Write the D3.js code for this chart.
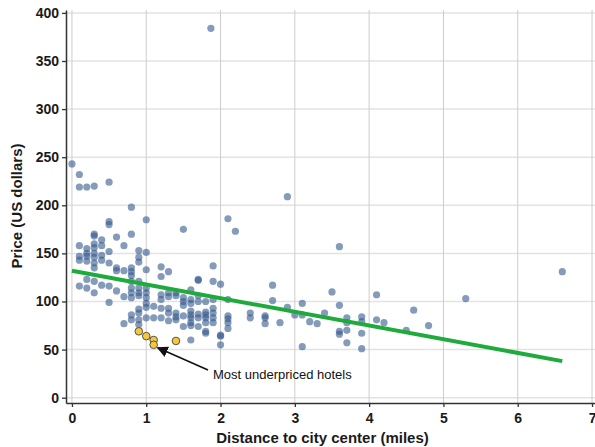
<!DOCTYPE html>
<html>
<head>
<meta charset="utf-8">
<style>
  body { margin: 0; background: #fff; }
  text { font-family: "Liberation Sans", Arial, sans-serif; }
</style>
</head>
<body>
<svg id="chart"></svg>
<script src="https://cdn.jsdelivr.net/npm/d3@7"></script>
<script>
// hotels: distance to center (miles) and price (US dollars)
var distance = [0.0,0.1,0.1,0.2,0.3,0.5,
  0.1,0.1,0.1,0.1,
  0.2,0.2,0.2,0.2,0.2,0.2,
  0.3,0.3,0.3,0.3,0.3,0.3,0.3,0.3,0.3,0.3,
  0.4,0.4,0.4,0.4,0.4,
  0.5,0.5,0.5,0.5,0.5,0.5,
  0.6,0.6,0.6,0.6,
  0.7,0.7,0.7,0.7,
  0.8,0.8,0.8,0.8,0.8,0.8,0.8,0.8,0.8,0.8,0.8,
  0.9,0.9,0.9,0.9,0.9,0.9,0.9,0.9,0.9,0.9,0.9,
  1.0,1.0,1.0,1.0,1.0,1.0,1.0,1.0,1.0,
  1.1,1.1,
  1.2,1.2,1.2,1.2,1.2,1.2,
  1.3,1.3,1.3,1.3,1.3,1.3,
  1.4,1.4,1.4,1.4,1.4,
  1.5,1.5,1.5,1.5,1.5,1.5,
  1.6,1.6,1.6,1.6,1.6,1.6,1.6,1.6,1.6,
  1.7,1.7,1.7,1.7,1.7,1.7,1.7,
  1.8,1.8,1.8,1.8,1.8,1.8,1.8,
  1.87,
  1.9,1.9,1.9,1.9,1.9,1.9,1.9,
  2.0,2.0,2.0,2.0,
  2.1,2.1,2.1,2.1,2.1,2.1,
  2.2,
  2.4,2.4,
  2.6,2.6,2.6,
  2.7,2.7,
  2.8,
  2.9,2.9,
  3.0,
  3.1,3.1,3.1,
  3.2,3.3,3.4,3.5,
  3.6,3.6,3.6,3.6,
  3.7,3.7,3.7,3.7,
  3.9,3.9,3.9,3.9,
  4.1,4.1,4.2,4.5,4.6,4.8,5.3,6.6];
var price = [243,232,219,219,220,224,
  158,147,143,116,
  155,150,147,142,123,114,
  170,168,160,156,150,146,140,135,121,109,
  164,158,148,143,117,
  183,180,152,140,116,99,
  167,135,132,111,
  158,132,105,77,
  198,170,135,131,127,121,114,109,104,86,81,
  153,146,141,121,114,109,106,92,88,81,76,
  185,151,133,114,109,104,98,94,83,
  95,83,
  136,126,107,102,93,83,
  131,109,105,93,88,80,
  109,106,88,84,81,
  175,104,100,96,85,74,
  112,102,98,90,86,83,78,75,60,
  123,122,106,100,87,83,74,
  100,89,86,83,78,69,67,
  384,
  137,121,102,93,88,83,78,
  118,65,64,55,
  186,102,85,82,78,72,
  173,
  88,83,
  85,83,77,
  117,101,
  78,
  209,94,
  86,
  98,86,53,
  79,77,88,110,
  157,96,69,66,
  83,78,70,57,
  84,79,67,51,
  107,81,78,70,91,75,103,131];

// highlighted hotels
var bargainDistance = [0.9, 1.0, 1.1, 1.1, 1.4];
var bargainPrice = [69, 64, 60, 55, 59];

// fitted line end points
var fitDistance = [0, 6.6];
var fitPrice = [132, 38];

var xTicks = [0, 1, 2, 3, 4, 5, 6, 7];
var yTicks = [0, 50, 100, 150, 200, 250, 300, 350, 400];

var width = 595, height = 447;
var plotLeft = 66, plotRight = 595, plotTop = 10, plotBottom = 403;

var svg = d3.select('#chart').attr('width', width).attr('height', height);

var x = d3.scaleLinear().domain([-0.08, 7.04]).range([plotLeft, plotRight]);
var y = d3.scaleLinear().domain([-5.5, 403]).range([plotBottom, plotTop]);

// grid
svg.append('g').selectAll('line').data(yTicks).enter().append('line')
  .attr('x1', plotLeft).attr('x2', plotRight)
  .attr('y1', function(d) { return y(d); }).attr('y2', function(d) { return y(d); })
  .style('stroke', '#e3e3e3').style('stroke-width', 1.5);
svg.append('g').selectAll('line').data(xTicks).enter().append('line')
  .attr('x1', function(d) { return x(d); }).attr('x2', function(d) { return x(d); })
  .attr('y1', plotTop).attr('y2', plotBottom)
  .style('stroke', '#cdcdcd').style('stroke-width', 1);

// axes
var xAxis = svg.append('g').attr('transform', 'translate(0,' + plotBottom + ')')
  .call(d3.axisBottom(x).tickValues(xTicks).tickSize(4).tickSizeOuter(0));
var yAxis = svg.append('g').attr('transform', 'translate(' + plotLeft + ',0)')
  .call(d3.axisLeft(y).tickValues(yTicks).tickSize(4).tickSizeOuter(0));
[xAxis, yAxis].forEach(function(a) {
  a.select('.domain').style('stroke', '#333').style('stroke-width', 1.5);
  a.selectAll('.tick line').style('stroke', '#333').style('stroke-width', 1.3);
  a.selectAll('.tick text').style('font-family', '"Liberation Sans", Arial, sans-serif')
    .style('font-size', '14px').style('font-weight', 'bold').style('fill', '#1a1a1a');
});
xAxis.selectAll('.tick text').attr('dy', '0.95em');
yAxis.selectAll('.tick text').attr('x', -7);

// points
var pts = d3.range(distance.length).map(function(i) { return {d: distance[i], p: price[i]}; });
svg.append('g').selectAll('circle').data(pts).enter().append('circle')
  .attr('cx', function(d) { return x(d.d); })
  .attr('cy', function(d) { return y(d.p); })
  .attr('r', 3.6)
  .style('fill', '#34598c').style('opacity', 0.6);

// fit line
var fit = fitDistance.map(function(d, i) { return [d, fitPrice[i]]; });
svg.append('path').datum(fit)
  .attr('d', d3.line().x(function(d) { return x(d[0]); }).y(function(d) { return y(d[1]); }))
  .style('stroke', '#1faa3c').style('stroke-width', 4).style('fill', 'none');

// highlighted
var bargains = bargainDistance.map(function(d, i) { return {d: d, p: bargainPrice[i]}; });
svg.append('g').selectAll('circle').data(bargains).enter().append('circle')
  .attr('cx', function(d) { return x(d.d); })
  .attr('cy', function(d) { return y(d.p); })
  .attr('r', 3.8)
  .style('fill', '#f5c73a').style('stroke', '#444').style('stroke-width', 0.9);

// annotation
svg.append('defs').append('marker').attr('id', 'arr')
  .attr('viewBox', '0 0 10 10').attr('refX', 9).attr('refY', 5)
  .attr('markerWidth', 7).attr('markerHeight', 7).attr('orient', 'auto')
  .append('path').attr('d', 'M0,0 L10,5 L0,10 z').style('fill', '#111');
svg.append('line')
  .attr('x1', 208).attr('y1', 370)
  .attr('x2', x(1.1) + 4).attr('y2', y(55) + 3)
  .style('stroke', '#111').style('stroke-width', 1.6)
  .attr('marker-end', 'url(#arr)');
svg.append('text').attr('x', 213).attr('y', 379)
  .style('font-size', '13px').style('fill', '#111')
  .text('Most underpriced hotels');

// titles
svg.append('text').attr('x', (plotLeft + plotRight) / 2 - 8).attr('y', 443)
  .attr('text-anchor', 'middle')
  .style('font-size', '15px').style('font-weight', 'bold').style('fill', '#1a1a1a')
  .text('Distance to city center (miles)');
svg.append('text').attr('transform', 'translate(22,206) rotate(-90)')
  .attr('text-anchor', 'middle')
  .style('font-size', '15px').style('font-weight', 'bold').style('fill', '#1a1a1a')
  .text('Price (US dollars)');
</script>
</body>
</html>
